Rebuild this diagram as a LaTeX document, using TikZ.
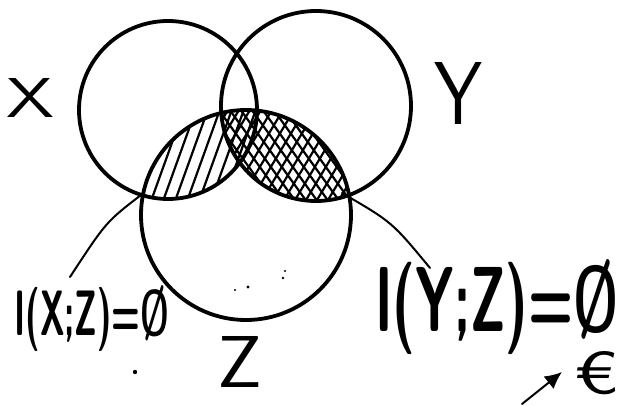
\documentclass[tikz,border=0pt]{standalone}
\usepackage{fontspec}
\usetikzlibrary{arrows.meta}
\begin{document}
\begin{tikzpicture}[x=1pt,y=-1pt,line cap=round,line join=round,
  ring/.style={line width=3.8pt},
  hatch/.style={line width=2.2pt},
  lead/.style={line width=2pt},
  lbl/.style={inner sep=0pt,font=\sffamily\bfseries},
  letter/.style={inner sep=0pt,font=\sffamily},
  speck/.style={fill=black}]
\useasboundingbox (0,0) rectangle (621,406);
% centres
\coordinate (cX) at (168,110);
\coordinate (cY) at (316,106);
\coordinate (cZ) at (246,215);
% hatching X and Z
\begin{scope}
  \clip (cX) circle (89);
  \clip (cZ) circle (105);
  \foreach \k in {0,...,14} \draw[hatch] (98+\k*12,215) -- ++(45,-125);
\end{scope}
% cross hatching Y and Z
\begin{scope}
  \clip (cY) circle (95);
  \clip (cZ) circle (105);
  \foreach \k in {0,...,22} \draw[hatch] (140+\k*11,220) -- ++(75,-125);
  \foreach \k in {0,...,22} \draw[hatch] (120+\k*11,95) -- ++(90,125);
\end{scope}
% circles
\draw[ring] (cX) circle (89);
\draw[ring] (cY) circle (95);
\draw[ring] (cZ) circle (105);
% set labels
\node[letter] (tX) at (31,98) {\resizebox{48pt}{39pt}{X}};
\node[letter] (tY) at (459,93) {\resizebox{48pt}{62pt}{Y}};
\node[letter] (tZ) at (240,362) {\resizebox{45pt}{51pt}{Z}};
% formula labels
\node[lbl] (lX) at (92,319) {\resizebox{155pt}{50pt}{I(X;Z)=Ø}};
\node[lbl] (lY) at (497,307) {\resizebox{243pt}{72pt}{I(Y;Z)=Ø}};
% leader lines
\coordinate (la) at (141,195);
\coordinate (lb) at (70,277);
\draw[lead] (la) .. controls (106,222) .. (lb);
\coordinate (ra) at (342,193);
\coordinate (rb) at (430,268);
\draw[lead] (ra) .. controls (392,222) .. (rb);
% bottom right mark
\coordinate (m1) at (522,404);
\coordinate (m2) at (562,372);
\draw[lead,-{Latex[length=17pt,width=16pt]}] (m1) -- (m2);
\node[letter] (eu) at (596,373) {\resizebox{46pt}{42pt}{€}};
% specks
\fill[speck] (135,372) circle (2.2);
\fill[speck] (248,287) circle (1.6);
\fill[speck] (235,290) circle (1.1);
\fill[speck] (283,278) circle (1.4);
\fill[speck] (285,271) circle (1.2);
\end{tikzpicture}
\end{document}
